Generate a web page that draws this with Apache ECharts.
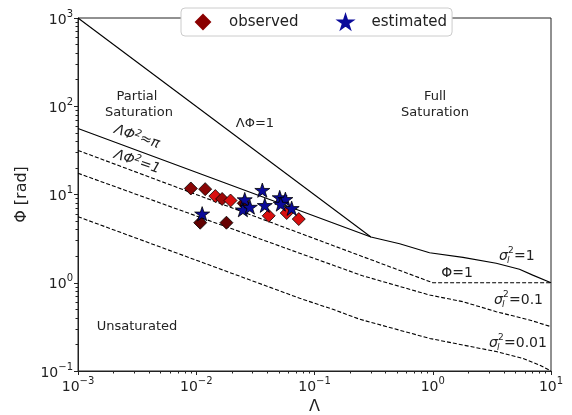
<!DOCTYPE html>
<html>
<head>
<meta charset="utf-8">
<script src="https://cdn.jsdelivr.net/npm/echarts@6/dist/echarts.min.js"></script>
<style>
  html, body { margin: 0; padding: 0; background: #fff; }
  #container { width: 572px; height: 415px; }
</style>
</head>
<body>
<div id="container"></div>
<script>
var obsLambda = [0.0090, 0.0119, 0.0145, 0.01655, 0.0195, 0.0252, 0.0410, 0.0582, 0.0736, 0.0108, 0.0180];
var obsPhi    = [11.7, 11.5, 9.6, 8.9, 8.55, 7.94, 5.74, 6.17, 5.27, 4.79, 4.79];
var obsLevel  = [0.35, 0.35, 0.95, 0.5, 0.95, 0.1, 0.95, 0.95, 0.95, 0.05, 0.1];

// estimated points
var estLambda = [0.01122, 0.0257, 0.0248, 0.0284, 0.0362, 0.0380, 0.0508, 0.0567, 0.0519, 0.0641];
var estPhi    = [6.05, 8.77, 6.73, 7.21, 11.2, 7.55, 9.25, 8.83, 7.80, 6.98];

// regime boundaries
var lineLambdaPhi = [[0.001, 1000], [0.3, 3.3]];
var lineSigma1 = [[0.001, 56], [0.3, 3.3], [0.525, 2.76], [0.94, 2.19], [1.8, 1.94], [3.44, 1.66], [5.41, 1.42], [7.01, 1.22], [10, 1.0]];
var linePhi1 = [[0.001, 31.6], [1, 1], [10, 1]];
var lineSigma01 = [[0.001, 17.4], [0.00726, 6.67], [0.075, 2.16], [0.255, 1.2], [0.94, 0.726], [1.8, 0.61], [3.44, 0.47], [6.56, 0.379], [10, 0.318]];
var lineSigma001 = [[0.001, 5.6], [0.075, 0.667], [0.143, 0.50], [0.241, 0.386], [0.94, 0.234], [1.8, 0.197], [3.44, 0.166], [5.77, 0.139], [7.98, 0.117], [10, 0.1]];

var FONT = 'DejaVu Sans';
var STAR = 'path://M50,0 L61.2,34.5 L97.6,34.5 L68.2,55.9 L79.4,90.5 L50,69.1 L20.6,90.5 L31.8,55.9 L2.4,34.5 L38.8,34.5 Z';

function minorTicks(lo, hi) {
    var out = [];
    for (var e = lo; e < hi; e++) {
        for (var k = 2; k <= 9; k++) {
            out.push(k * Math.pow(10, e));
        }
    }
    return out;
}

function powLabel(value) {
    var e = Math.round(Math.log(value) / Math.LN10);
    var s = e < 0 ? '\u2212' + (-e) : '' + e;
    return '{b|10}{s|' + s + '}';
}

var tickRich = {
    b: {fontFamily: FONT, fontSize: 14, color: '#222', lineHeight: 18, verticalAlign: 'bottom'},
    s: {fontFamily: FONT, fontSize: 10, color: '#222', lineHeight: 18, verticalAlign: 'top'}
};

function lineSeries(data, dashed) {
    return {
        type: 'line',
        data: data,
        showSymbol: false,
        symbol: 'none',
        silent: true,
        z: 1,
        lineStyle: {color: '#000', width: 1.1, type: dashed ? [4, 2] : 'solid'}
    };
}

function txt(x, y, text, size) {
    return {
        type: 'text', x: x, y: y,
        style: {
            text: text, fill: '#222', font: size + 'px "' + FONT + '"',
            align: 'center', verticalAlign: 'middle'
        }
    };
}

// sigma_I^2 = value label, left edge at x
function sigmaLabel(x, y, rest) {
    return [
        {type: 'text', x: x, y: y, style: {text: 'σ', fill: '#222', font: 'italic 14px "' + FONT + '"', align: 'left', verticalAlign: 'middle'}},
        {type: 'text', x: x + 9, y: y - 5, style: {text: '2', fill: '#222', font: '9px "' + FONT + '"', align: 'left', verticalAlign: 'middle'}},
        {type: 'text', x: x + 8, y: y + 5, style: {text: 'l', fill: '#222', font: 'italic 9px "' + FONT + '"', align: 'left', verticalAlign: 'middle'}},
        {type: 'text', x: x + 15, y: y, style: {text: rest, fill: '#222', font: '14px "' + FONT + '"', align: 'left', verticalAlign: 'middle'}}
    ];
}

var obsData = [];
for (var i = 0; i < obsLambda.length; i++) {
    obsData.push([obsLambda[i], obsPhi[i], obsLevel[i]]);
}
var estData = [];
for (var j = 0; j < estLambda.length; j++) {
    estData.push([estLambda[j], estPhi[j]]);
}

var mathRich = {
    a: {fontFamily: FONT, fontStyle: 'italic', fontSize: 14, fill: '#222', lineHeight: 17},
    s: {fontFamily: FONT, fontStyle: 'italic', fontSize: 10, fill: '#222', lineHeight: 17, verticalAlign: 'top'}
};

var graphics = [
    txt(137, 97, 'Partial', 13),
    txt(139, 113, 'Saturation', 13),
    txt(435, 97, 'Full', 13),
    txt(435, 113, 'Saturation', 13),
    txt(255, 124, 'ΛΦ=1', 13),
    txt(137, 327, 'Unsaturated', 13),
    {
        type: 'text', x: 137, y: 137, rotation: -19 * Math.PI / 180,
        style: {text: '{a|ΛΦ}{s|2}{a|≈π}', align: 'center', verticalAlign: 'middle', rich: mathRich}
    },
    {
        type: 'text', x: 137, y: 162, rotation: -19 * Math.PI / 180,
        style: {text: '{a|ΛΦ}{s|2}{a|=1}', align: 'center', verticalAlign: 'middle', rich: mathRich}
    },
    txt(457, 273, 'Φ=1', 14)
].concat(sigmaLabel(499, 256, '=1'))
 .concat(sigmaLabel(494, 300, '=0.1'))
 .concat(sigmaLabel(489, 343, '=0.01'));

var myChart = echarts.init(document.getElementById('container'));
var option = {
    animation: false,
    backgroundColor: '#fff',
    grid: {left: 78, right: 21, top: 18, bottom: 44, show: true, borderColor: '#222', borderWidth: 1,
        containLabel: false, outerBoundsMode: 'none'},
    legend: {
        left: 181, top: 8,
        padding: [6, 5, 6, 14],
        itemGap: 39,
        itemWidth: 14, itemHeight: 14,
        borderColor: '#ccc', borderWidth: 1, borderRadius: 4,
        backgroundColor: '#fff',
        textStyle: {fontFamily: FONT, fontSize: 15, color: '#222', padding: [0, 0, 0, 14]},
        data: [
            {name: 'observed', icon: 'diamond', itemStyle: {color: '#8b0000', borderColor: '#8b0000', opacity: 1}},
            {name: 'estimated', icon: STAR, itemStyle: {color: '#0b0b9a', borderColor: '#0b0b9a', opacity: 1}}
        ]
    },
    visualMap: {
        show: false, seriesIndex: 5, dimension: 2, min: 0, max: 1,
        inRange: {color: ['#5a0000', '#e01010']}
    },
    xAxis: [
        {
            type: 'log', logBase: 10, min: 0.001, max: 10,
            name: 'Λ', nameLocation: 'middle', nameGap: 28,
            nameTextStyle: {fontFamily: FONT, fontSize: 16, color: '#222'},
            axisLine: {lineStyle: {color: '#222'}},
            axisTick: {length: 4, lineStyle: {color: '#222'}},
            axisLabel: {formatter: powLabel, rich: tickRich, margin: 5},
            splitLine: {show: false}
        },
        {
            type: 'log', logBase: 10, min: 0.001, max: 10, position: 'bottom',
            axisLine: {show: false},
            axisTick: {length: 2.5, customValues: minorTicks(-3, 1), lineStyle: {color: '#222'}},
            axisLabel: {show: false},
            splitLine: {show: false}
        }
    ],
    yAxis: [
        {
            type: 'log', logBase: 10, min: 0.1, max: 1000,
            name: 'Φ [rad]', nameLocation: 'middle', nameGap: 48,
            nameTextStyle: {fontFamily: FONT, fontSize: 16, color: '#222'},
            axisLine: {lineStyle: {color: '#222'}},
            axisTick: {length: 4, lineStyle: {color: '#222'}},
            axisLabel: {formatter: powLabel, rich: tickRich, margin: 5},
            splitLine: {show: false}
        },
        {
            type: 'log', logBase: 10, min: 0.1, max: 1000, position: 'left',
            axisLine: {show: false},
            axisTick: {length: 2.5, customValues: minorTicks(-1, 3), lineStyle: {color: '#222'}},
            axisLabel: {show: false},
            splitLine: {show: false}
        }
    ],
    series: [
        lineSeries(lineLambdaPhi, false),
        lineSeries(lineSigma1, false),
        lineSeries(linePhi1, true),
        lineSeries(lineSigma01, true),
        lineSeries(lineSigma001, true),
        {
            name: 'observed',
            type: 'scatter',
            symbol: 'diamond',
            symbolSize: 13,
            z: 3,
            itemStyle: {color: '#8b0000', borderColor: '#000', borderWidth: 0.8, opacity: 1},
            data: obsData
        },
        {
            name: 'estimated',
            type: 'scatter',
            symbol: STAR,
            symbolSize: 15,
            symbolKeepAspect: true,
            z: 4,
            itemStyle: {color: '#0b0b9a', borderColor: '#000', borderWidth: 0.8, opacity: 1},
            data: estData
        }
    ],
    graphic: graphics
};

myChart.setOption(option);
</script>
</body>
</html>
